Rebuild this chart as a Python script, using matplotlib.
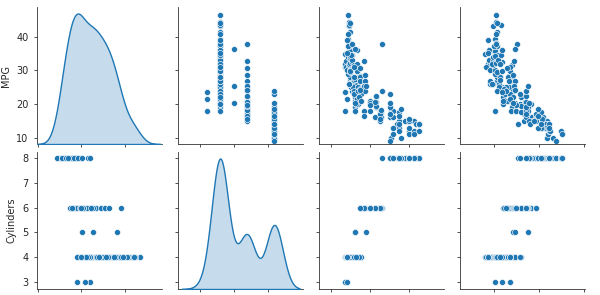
import numpy as np
import matplotlib
matplotlib.use("Agg")
import matplotlib.pyplot as plt
import seaborn as sns

# values, grouped by number of cylinders
mpg_4 = [24, 27, 26, 25, 24, 25, 26, 21, 28, 25,
         19, 31, 35, 27, 26, 24, 28, 20, 29, 32,
         22, 18, 32, 31, 28, 23, 29, 30, 36, 33,
         25, 30, 26, 31.5, 29.5, 21.5, 43.1, 36.1, 32.8, 39.4,
         36.1, 27.2, 34.1, 35.7, 27.4, 31.9, 37.3, 28.4, 41.5, 38.1,
         32.1, 37.2, 46.6, 40.8, 44.3, 43.4, 29.8, 32.4, 33.8, 34.7,
         34.4, 29.9, 33.0, 34.5, 31.6, 28.0, 26.8, 24.0, 36.0, 38.0,
         27.0, 44.0, 32.0, 28.0, 31.0, 23.0, 22.0, 20.0, 39.1, 35.1]
disp_4 = [113, 97, 97, 110, 107, 104, 121, 121, 140, 113,
          121, 71, 72, 97, 91, 116, 98, 140, 98, 79,
          122, 121, 71, 76, 97, 120, 85, 79, 98, 91,
          140, 98, 90, 89, 98, 134, 90, 98, 78, 85,
          91, 119, 86, 98, 121, 89, 91, 151, 98, 89,
          98, 86, 86, 85, 90, 90, 134, 108, 97, 105,
          98, 98, 105, 100, 120, 151, 151, 140, 135, 105,
          151, 97, 135, 120, 119, 156, 141, 130, 79, 81]
weight_4 = [2372, 2130, 1835, 2672, 2430, 2375, 2234, 2648, 2264, 2228,
            2811, 1773, 1613, 1834, 1955, 2158, 2164, 2408, 2219, 1755,
            2395, 2933, 1836, 1649, 2288, 2506, 2070, 1825, 1940, 1795,
            2542, 2045, 1937, 1990, 2135, 2702, 1985, 1800, 1985, 2070,
            1800, 2300, 1975, 2050, 2670, 1925, 2130, 2670, 2144, 2125,
            2120, 2019, 2110, 2110, 2085, 2335, 2711, 2350, 2145, 2215,
            2045, 2380, 2190, 2320, 2800, 2800, 2735, 2865, 2370, 2125,
            2950, 2130, 2295, 2625, 2720, 2745, 3190, 3150, 1755, 1760]

mpg_6 = [18, 21, 16, 19, 18, 17, 15, 22, 16, 20,
         18, 21, 19.2, 17.5, 20.2, 24.5, 26.8, 25.4, 28.8, 30.7,
         32.7, 38.0, 23.8, 22.4, 20.6, 17.0, 16.5, 18.1, 19.4, 15.5,
         20.5, 24.2, 19.8]
disp_6 = [199, 200, 225, 232, 250, 250, 250, 232, 258, 225,
          171, 155, 231, 258, 200, 146, 173, 168, 173, 146,
          168, 262, 173, 231, 231, 250, 168, 258, 232, 250,
          225, 146, 200]
weight_6 = [2774, 2587, 3439, 3302, 3282, 3329, 3336, 2835, 3645, 3651,
            2984, 2400, 3535, 3193, 2965, 2472, 2700, 2900, 2845, 2600,
            2910, 3015, 2550, 3415, 3380, 3460, 3850, 3410, 3210, 3880,
            3430, 2930, 2990]

mpg_8 = [18, 15, 18, 16, 17, 15, 14, 14, 14, 15,
         15, 14, 15, 14, 10, 10, 11, 9, 13, 12,
         13, 13, 12, 11, 12, 13, 12, 11, 16, 17,
         17.5, 15.5, 16.5, 19.2, 18.5, 20.2, 23.0, 24.0, 13, 14]
disp_8 = [307, 350, 318, 304, 302, 429, 454, 440, 455, 390,
          383, 340, 400, 455, 360, 307, 318, 304, 350, 400,
          351, 318, 429, 400, 350, 400, 455, 429, 318, 302,
          350, 400, 351, 305, 360, 302, 305, 260, 318, 350]
weight_8 = [3504, 3693, 3436, 3433, 3449, 4341, 4354, 4312, 4425, 3850,
            3563, 3609, 3761, 3086, 4615, 4376, 4382, 4732, 4274, 4464,
            4129, 4098, 4952, 4997, 4499, 4422, 4951, 5030, 4190, 3870,
            4080, 4140, 3955, 3425, 3940, 3570, 3160, 3420, 3940, 4100]

mpg_3 = [18.0, 23.7, 21.5]
disp_3 = [70, 70, 80]
weight_3 = [2080, 2390, 2710]

mpg_5 = [20.3, 25.4, 36.4]
disp_5 = [124, 182, 124]
weight_5 = [2860, 3496, 2933]

mpg = np.array(mpg_4 + mpg_6 + mpg_8 + mpg_3 + mpg_5)
cylinders = np.array([4]*len(mpg_4) + [6]*len(mpg_6) + [8]*len(mpg_8)
                     + [3]*len(mpg_3) + [5]*len(mpg_5))
displacement = np.array(disp_4 + disp_6 + disp_8 + disp_3 + disp_5)
weight = np.array(weight_4 + weight_6 + weight_8 + weight_3 + weight_5)

cols = [("MPG", mpg), ("Cylinders", cylinders),
        ("Displacement", displacement), ("Weight", weight)]
rows = cols[:2]

xlims = [(-0.3, 56.8), (0.9, 10.1), (-64, 584), (520, 6030)]
xticks = [[0, 20, 40], [2.5, 5.0, 7.5], [0, 200, 400], [2000, 4000, 6000]]
ylims = [(8.1, 48.9), (2.73, 8.23)]
yticks = [[10, 20, 30, 40], [3, 4, 5, 6, 7, 8]]

fig, axs = plt.subplots(2, 4, figsize=(6, 2.95), dpi=100, sharex="col", sharey="row")
fig.subplots_adjust(left=37/600, right=585/600, top=1-7/295, bottom=1-289/295,
                    wspace=0.128, hspace=0.058)

for i, (yname, yvals) in enumerate(rows):
    for j, (xname, xvals) in enumerate(cols):
        ax = axs[i, j]
        if i == j:
            dax = ax.twinx()
            sns.kdeplot(x=xvals, ax=dax, fill=True, color="C0", linewidth=1)
            dax.set_axis_off()
        else:
            ax.scatter(xvals, yvals, s=19, color="C0", edgecolor="white", linewidth=0.45)
        for s in ["top", "right"]:
            ax.spines[s].set_visible(False)
        for s in ["left", "bottom"]:
            ax.spines[s].set_linewidth(0.6)
            ax.spines[s].set_color("#333333")
        ax.tick_params(labelbottom=False, labelsize=7, length=2.5, width=0.6,
                       color="#333333", labelcolor="#262626")
        if j == 0:
            ax.set_ylabel(yname, fontsize=7, color="#262626")

for j in range(4):
    axs[0, j].set_xticks(xticks[j])
    axs[0, j].set_xlim(xlims[j])
for i in range(2):
    axs[i, 0].set_yticks(yticks[i])
    axs[i, 0].set_ylim(ylims[i])

fig.savefig("out.png", dpi=100)
